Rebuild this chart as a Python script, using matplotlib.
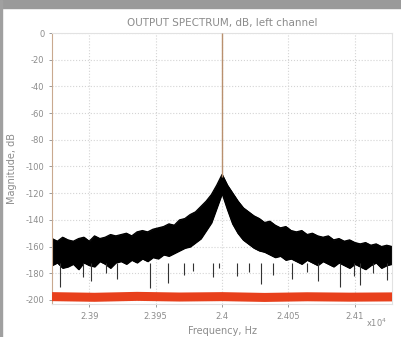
import matplotlib
matplotlib.use("Agg")
import matplotlib.pyplot as plt
from matplotlib.patches import Rectangle

plt.rcParams["axes.unicode_minus"] = False

# frequency grid (Hz) for the noise band edges, 4 Hz apart
env_freq = list(range(23872, 24129, 4))
upper_db = [-154, -156, -153, -155, -156, -154, -153, -156, -152, -154, -153, -151, -152,
            -151, -150, -152, -149, -148, -149, -147, -146, -145, -143, -144, -140, -139,
            -136, -134, -130, -126, -121, -114, -106, -114, -120, -126, -131, -134, -137,
            -139, -142, -141, -144, -146, -145, -148, -149, -148, -151, -150, -152, -153,
            -152, -155, -154, -156, -155, -157, -158, -157, -159, -158, -160, -159, -160]
lower_db = [-174, -172, -176, -175, -173, -177, -172, -174, -175, -171, -173, -176, -172,
            -171, -173, -170, -172, -169, -171, -168, -169, -166, -167, -165, -163, -161,
            -160, -157, -154, -148, -142, -131, -120, -132, -143, -150, -155, -158, -161,
            -163, -164, -166, -168, -167, -170, -169, -171, -173, -170, -172, -174, -171,
            -173, -175, -172, -174, -176, -173, -175, -177, -174, -172, -176, -174, -173]

# downward noise spikes (frequency, depth dB)
spike_freq = [23878, 23895, 23901, 23913, 23921, 23946, 23959, 23971, 23978, 23993, 23998,
              24011, 24020, 24029, 24038, 24053, 24064, 24072, 24089, 24099, 24104, 24114, 24124]
spike_db = [-190, -183, -186, -180, -184, -191, -187, -181, -178, -183, -176,
            -182, -179, -188, -181, -184, -179, -186, -190, -182, -189, -180, -185]

# second channel floor (red)
floor_freq = [23872, 23904, 23936, 23968, 24000, 24032, 24064, 24096, 24128]
floor_db = [-197.5, -198, -197.3, -197.8, -197.5, -198.1, -197.6, -197.9, -197.7]

tone_freq = 24000
tone_db = [0, -108]

xticks = [23900, 23950, 24000, 24050, 24100]
xtick_labels = ["2.39", "2.395", "2.4", "2.405", "2.41"]
yticks = [0, -20, -40, -60, -80, -100, -120, -140, -160, -180, -200]

fig = plt.figure(figsize=(4.01, 3.37), dpi=100)
fig.patch.set_facecolor("white")
ax = fig.add_axes([0.1297, 0.098, 0.848, 0.804])

grey = "#8c8c8c"
ax.fill_between(env_freq, lower_db, upper_db, color="black", lw=0.8, zorder=2)
ax.plot(env_freq, upper_db, color="black", lw=0.9, zorder=2)
ax.plot(env_freq, lower_db, color="black", lw=0.9, zorder=2)
ax.vlines(spike_freq, -172, spike_db, color="#333333", lw=0.8, zorder=2)
ax.vlines(tone_freq, tone_db[1], tone_db[0], color="#b9906e", lw=1, zorder=3)
ax.plot(floor_freq, floor_db, color="#e8401c", lw=6.5, solid_capstyle="butt", zorder=3)

ax.set_xlim(23872, 24128)
ax.set_ylim(-203, 0)
ax.set_xticks(xticks)
ax.set_xticklabels(xtick_labels)
ax.set_yticks(yticks)
ax.grid(True, linestyle=":", color="#d4d4d4", lw=0.8)
ax.tick_params(labelsize=6, colors=grey, length=2, width=0.6)
for s in ["top", "right", "bottom"]:
    ax.spines[s].set_color("#e2e2e2")
ax.spines["left"].set_color("#c9a98f")

ax.set_title("OUTPUT SPECTRUM, dB, left channel", fontsize=7.5, color=grey, pad=5)
ax.set_xlabel("Frequency, Hz", fontsize=7, color=grey, labelpad=4)
ax.set_ylabel("Magnitude, dB", fontsize=7, color=grey, labelpad=6)
fig.text(0.965, 0.03, r"x10$^4$", fontsize=6, color=grey, ha="right")

# window frame
fig.patches.append(Rectangle((0, 0.976), 1, 0.024, transform=fig.transFigure,
                             color="#9a9a9a", zorder=0))
fig.patches.append(Rectangle((0, 0), 0.006, 1, transform=fig.transFigure,
                             color="#a0a0a0", zorder=0))

fig.savefig("out.png", dpi=100)
